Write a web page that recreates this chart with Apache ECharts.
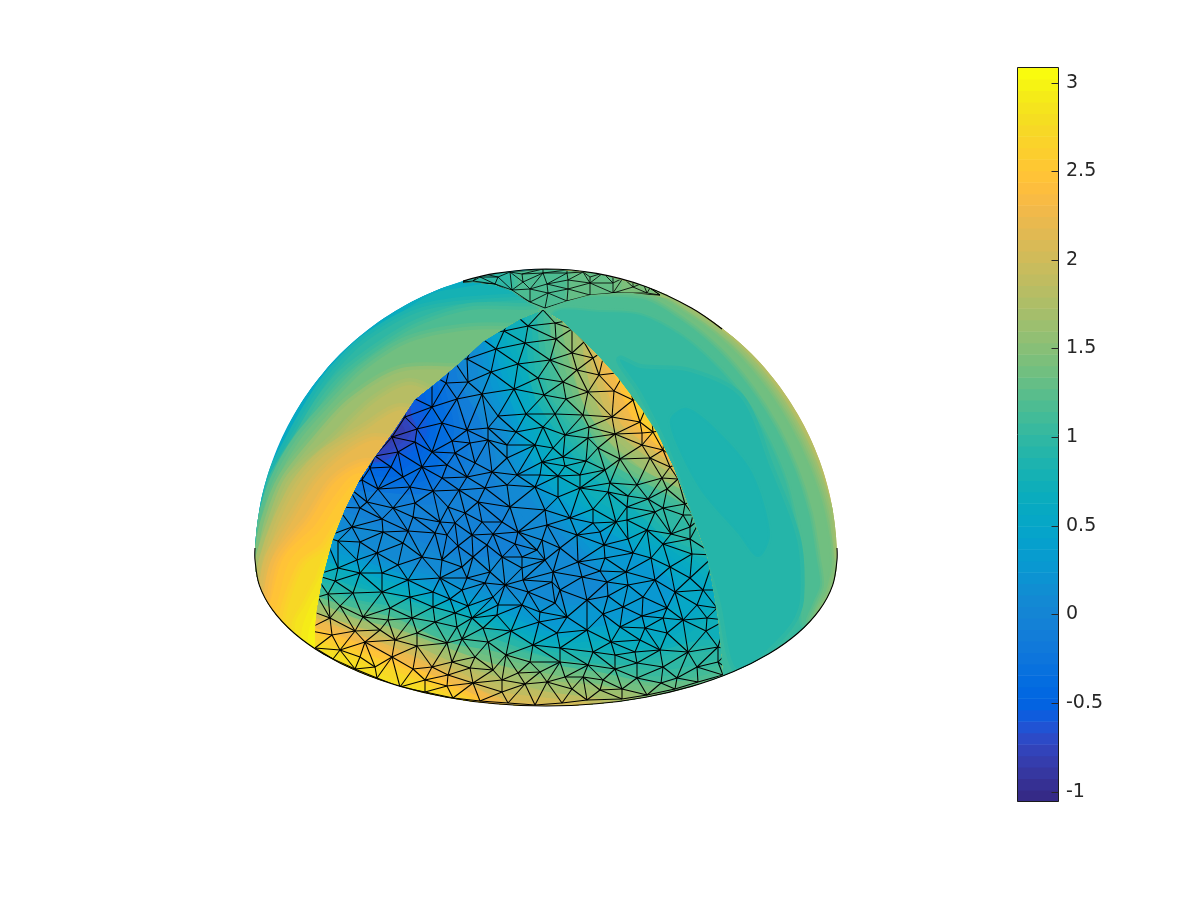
<!DOCTYPE html>
<html>
<head>
<meta charset="utf-8">
<style>html,body{margin:0;padding:0;background:#fff}#c{width:1200px;height:900px}</style>
<script src="https://cdn.jsdelivr.net/npm/echarts@6/dist/echarts.min.js"></script>
</head>
<body>
<div id="c"></div>
<script>
const colorMin = -1.056, colorMax = 3.085;
const tickValues = [-1, -0.5, 0, 0.5, 1, 1.5, 2, 2.5, 3];
const parula = [
[.2081,.1663,.5292],[.2116,.1898,.5777],[.2123,.2138,.6270],[.2081,.2386,.6771],[.1959,.2645,.7279],[.1707,.2919,.7792],[.1253,.3242,.8303],[.0591,.3598,.8683],
[.0117,.3875,.8820],[.0060,.4086,.8828],[.0165,.4266,.8786],[.0329,.4430,.8720],[.0498,.4586,.8641],[.0629,.4737,.8554],[.0723,.4887,.8467],[.0779,.5040,.8384],
[.0793,.5200,.8312],[.0749,.5375,.8263],[.0641,.5570,.8240],[.0488,.5772,.8228],[.0343,.5966,.8199],[.0265,.6137,.8135],[.0239,.6287,.8038],[.0231,.6418,.7913],
[.0228,.6535,.7768],[.0267,.6642,.7607],[.0384,.6743,.7436],[.0590,.6838,.7254],[.0843,.6928,.7062],[.1133,.7015,.6859],[.1453,.7098,.6646],[.1801,.7177,.6424],
[.2178,.7250,.6193],[.2586,.7317,.5954],[.3022,.7376,.5712],[.3482,.7424,.5473],[.3953,.7459,.5244],[.4420,.7481,.5033],[.4871,.7491,.4840],[.5300,.7491,.4661],
[.5709,.7485,.4494],[.6099,.7473,.4337],[.6473,.7456,.4188],[.6834,.7435,.4044],[.7184,.7411,.3905],[.7525,.7384,.3768],[.7858,.7356,.3633],[.8185,.7327,.3498],
[.8507,.7299,.3360],[.8824,.7274,.3217],[.9139,.7258,.3063],[.9450,.7261,.2886],[.9739,.7314,.2666],[.9938,.7455,.2403],[.9990,.7653,.2164],[.9955,.7861,.1967],
[.9880,.8066,.1794],[.9789,.8271,.1633],[.9697,.8481,.1475],[.9626,.8705,.1309],[.9589,.8949,.1132],[.9598,.9218,.0948],[.9661,.9514,.0755],[.9763,.9831,.0538]];

// Outline of the dome and its patches (picture units)
const domeOutline = [[255,560],[259.4,509.5],[272.5,460.5],[294,414.5],[323.1,372.9],[358.9,337.1],[400.5,308],[446.5,286.5],[495.5,273.4],[546,269],[596.5,273.4],[645.5,286.5],[691.5,308],[733.1,337.1],[768.9,372.9],[798,414.5],[819.5,460.5],[832.6,509.5],[837,560],[832.6,585.4],[819.5,609.9],[798,633],[768.9,653.8],[733.1,671.8],[691.5,686.4],[645.5,697.2],[596.5,703.8],[546,706],[495.5,703.8],[446.5,697.2],[400.5,686.4],[358.9,671.8],[323.1,653.8],[294,633],[272.5,609.9],[259.4,585.4]];
const bottomRim = [[255,548],[255,560],[259.4,585.4],[272.5,609.9],[294,633],[323.1,653.8],[358.9,671.8],[400.5,686.4],[446.5,697.2],[495.5,703.8],[546,706],[596.5,703.8],[645.5,697.2],[691.5,686.4],[733.1,671.8],[768.9,653.8],[798,633],[819.5,609.9],[832.6,585.4],[837,560],[837,548]];
const topRim = [[463,281],[495.5,273.4],[546,269],[596.5,273.4],[645.5,286.5],[691.5,308],[722,329]];
const centerPatch = [[543,310],[519,320],[483,342],[460,363],[440,380],[415,400],[393,433],[373,460],[360,480],[345,510],[333,540],[323,577],[317,610],[315,630],[315,648],[323,654],[341,663],[359,672],[380,680],[400.5,686.4],[423,692],[446.5,697.2],[471,701],[495.5,703.8],[521,705.5],[546,706],[571,705.5],[596.5,703.8],[621,701],[645.5,697.2],[668,692.5],[691.5,686.4],[710,680],[723,675],[718,620],[713,590],[707,557],[693,519],[687,503],[673,467],[657,433],[642,410],[617,377],[597,355],[563,322]];
const capPatch = [[463,283],[473,282],[495,285],[512,291],[530,303],[543,310],[547,308],[567,301],[590,295],[613,293],[633,293],[650,295],[670,299],[668,295],[645.5,286.5],[596.5,273.4],[546,269],[495.5,273.4],[463,281]];

// Colour regions: each path encloses the part of the patch at or beyond its value
const leftBandValues = [0.45,0.8,1.0,1.2,1.4,1.6,1.8,2.0,2.2,2.4,2.55,2.7,2.85,3.0];
const leftBandPaths = [
[[240,560],[240,260],[600,260],[600,720],[240,720]],
[[445,290],[400,313],[362,342],[330,375],[303,413],[282,457],[266,505],[258,535],[250,560],[240,720],[600,720],[600,290]],
[[520,300],[425,310],[368,340],[335,372],[315,400],[292,440],[272,480],[262,520],[257,545],[250,560],[240,720],[600,720],[600,300]],
[[525,310],[470,310],[420,325],[385,345],[345,375],[322,402],[302,435],[275,480],[265,520],[258,548],[252,565],[240,720],[600,720],[600,310]],
[[530,330],[470,330],[410,342],[365,370],[333,402],[300,440],[277,480],[264,520],[257,555],[245,580],[240,720],[600,720],[600,330]],
[[460,370],[400,372],[350,402],[315,440],[284,480],[268,520],[259,560],[250,585],[240,720],[600,720],[600,370]],
[[450,400],[410,385],[375,402],[335,440],[292,480],[275,520],[262,560],[255,590],[240,720],[600,720],[600,400]],
[[440,420],[400,410],[365,430],[325,455],[300,482],[280,520],[266,560],[260,595],[250,720],[600,720],[600,420]],
[[430,450],[375,440],[345,455],[318,480],[293,520],[271,560],[265,595],[255,720],[600,720],[600,450]],
[[420,470],[365,465],[335,482],[310,520],[279,560],[270,600],[265,720],[600,720],[600,470]],
[[400,500],[360,480],[340,500],[320,530],[290,560],[278,600],[272,625],[268,720],[600,720],[600,500]],
[[400,540],[345,525],[325,550],[305,565],[290,600],[285,625],[290,720],[600,720],[600,540]],
[[400,580],[330,558],[318,580],[305,605],[295,625],[305,720],[600,720],[600,580]],
[[400,620],[325,600],[312,620],[308,640],[315,720],[600,720],[600,620]]];

const rightBandValues = [1.9,1.7,1.5,1.35,1.2,1.05,0.92,0.85];
const rightBandPaths = [
[[546,285],[560,260],[860,260],[860,720],[600,720],[590,500],[552,340],[544,310]],
[[645.2,287.5],[691,308.9],[731.8,338.6],[766.6,374.9],[794.5,416.5],[816.6,461.5],[832.6,509.5],[850,505],[850,720],[600,720],[590,500],[552,340],[544,310],[546,290]],
[[644.5,289.4],[689,312.3],[729.2,341.7],[763.5,377.4],[791.1,418.5],[812.9,462.9],[828.6,510.2],[835,560],[850,575],[850,720],[600,720],[590,500],[552,340],[544,310],[546,295]],
[[643.1,293.1],[687,315.8],[726,345.5],[759,381.3],[785.9,421.5],[807.3,464.9],[822.7,511.2],[830,560],[824,590],[812,615],[825,630],[825,720],[600,720],[590,500],[552,340],[544,310],[546,298]],
[[641,298.7],[683.5,321.8],[720.2,352.4],[750.5,388.4],[775.5,427.5],[795,469.4],[809,513.6],[817,560],[820,585],[812,605],[806,625],[830,640],[800,690],[740,720],[600,720],[590,500],[552,340],[544,310],[546,300]],
[[555,312],[600,312],[640,315],[680,335],[715,365],[745,400],[768,440],[785,480],[795,520],[802,560],[800,600],[800,625],[810,640],[745,710],[600,720],[590,500],[552,340]],
[[620,360],[640,368],[690,372],[740,397],[770,467],[797,540],[800,600],[790,625],[755,660],[735,667],[720,600],[697,527],[670,450],[640,390]],
[[672,420],[687,410],[717,433],[750,473],[768,533],[758,555],[740,533],[703,490],[680,447]]];

const centerBandValues = [2.9,2.7,2.4,2.1,1.8,1.5,1.2,1.0,0.75,0.5,0.3,0.1,-0.05,-0.2,-0.35,-0.5,-0.65,-0.8];
const centerBandPaths = [
[[300,300],[740,300],[740,720],[300,720]],
[[300,300],[730,300],[730,720],[460,720],[440,695],[400,682],[370,668],[340,655],[316,645],[300,640]],
[[300,300],[660,300],[660,360],[617,378],[625,400],[640,430],[665,452],[730,500],[730,720],[490,720],[480,697],[450,682],[400,660],[360,645],[316,627],[300,620]],
[[300,300],[640,300],[640,340],[600,358],[607,390],[625,430],[650,455],[680,480],[730,500],[730,720],[510,720],[500,696],[450,670],[400,648],[360,630],[316,615],[300,608]],
[[300,300],[620,300],[620,320],[585,345],[592,390],[610,430],[640,455],[668,475],[700,495],[730,520],[730,720],[610,720],[600,700],[550,692],[500,685],[450,660],[400,637],[360,622],[316,605],[300,598]],
[[300,300],[610,300],[572,328],[578,388],[598,430],[644,470],[682,495],[730,530],[730,720],[660,720],[640,695],[600,686],[550,680],[500,665],[450,648],[400,625],[360,615],[316,600],[300,592]],
[[300,300],[600,300],[552,315],[565,390],[585,430],[620,470],[685,505],[695,512],[730,535],[735,672],[700,680],[650,680],[600,672],[550,662],[500,653],[450,636],[400,617],[360,607],[320,590],[300,582]],
[[300,300],[560,290],[538,312],[548,390],[575,430],[600,470],[670,510],[695,530],[735,545],[735,655],[715,660],[680,668],[650,670],[600,660],[550,652],[500,640],[450,630],[400,607],[360,597],[320,585],[300,578]],
[[300,300],[520,300],[525,322],[532,390],[555,430],[585,470],[635,510],[680,550],[735,570],[735,635],[700,640],[650,652],[600,652],[550,645],[500,628],[450,612],[400,596],[360,588],[322,575],[300,570]],
[[300,300],[495,300],[500,340],[520,390],[532,430],[555,470],[590,510],[661,550],[708,595],[672,630],[640,637],[600,635],[550,636],[500,617],[450,600],[400,585],[360,570],[330,555],[300,548]],
[[300,300],[470,300],[488,350],[500,390],[515,430],[530,470],[565,510],[625,550],[670,590],[650,612],[600,620],[550,625],[500,605],[443,590],[400,572],[330,550],[300,535]],
[[300,300],[450,300],[476,360],[480,390],[500,430],[510,470],[540,510],[575,550],[605,590],[550,600],[500,590],[450,575],[370,550],[335,525],[300,515]],
[[300,300],[440,300],[458,365],[465,395],[483,430],[492,470],[505,510],[525,550],[500,556],[460,555],[380,525],[340,510],[300,505]],
[[300,300],[435,300],[445,378],[455,400],[470,430],[462,470],[445,490],[400,492],[350,490],[300,480]],
[[300,300],[425,300],[438,385],[448,430],[435,470],[420,482],[380,480],[350,478],[300,470]],
[[300,300],[410,300],[425,395],[430,430],[420,455],[400,470],[375,470],[350,462],[300,450]],
[[300,300],[395,300],[410,410],[415,430],[400,445],[380,452],[360,450],[300,440]],
[[300,300],[385,300],[400,420],[405,432],[392,442],[378,450],[300,445]]];

const capBandValues = [1.6,1.45,1.3,1.15,1.0];
const capBandPaths = [
[[440,250],[700,250],[700,320],[440,320]],
[[440,250],[645,250],[640,320],[440,320]],
[[440,250],[605,250],[600,320],[440,320]],
[[440,250],[555,250],[550,320],[440,320]],
[[440,250],[505,250],[500,320],[440,320]]];

// Mesh nodes
const meshNodes = [
[543,310],[528,326],[504,331],[555,323],[572,329],[556,339],[525,343],[496,349],[584,342],[593,358],[572,353],[550,360],[518,364],[491,372],[467,359],[446,383],[468,382],[482,394],[514,389],[538,378],[577,370],[599,375],[563,382],[588,392],[614,391],[544,395],[566,399],[457,399],[432,407],[633,400],
[498,416],[526,414],[405,417],[442,423],[417,429],[467,430],[488,428],[516,432],[452,441],[415,442],[392,437],[432,452],[488,440],[470,443],[507,445],[535,445],[398,452],[455,453],[475,463],[507,458],[375,456],[422,467],[391,467],[447,465],[370,468],[517,475],[492,472],[467,477],[403,477],[442,478],[362,480],[507,485],[410,487],[433,491],[459,490],[485,488],[535,487],[378,489],[393,508],[367,502],[415,503],[448,507],[478,502],[510,507],[360,508],
[555,414],[583,415],[612,417],[640,422],[543,427],[565,435],[589,427],[615,434],[642,433],[653,432],[588,438],[553,448],[598,448],[620,459],[642,445],[663,450],[542,462],[586,461],[563,457],[650,458],[670,467],[605,470],[565,466],[540,475],[580,475],[610,483],[637,485],[662,478],[678,479],[558,476],[667,489],[580,488],[558,497],[608,492],[628,496],[648,499],[685,504],[545,510],[593,509],[627,507],[663,508],[570,518],[693,515],
[382,519],[352,527],[413,517],[440,522],[383,532],[338,541],[360,542],[408,531],[403,543],[435,533],[377,553],[357,560],[398,565],[422,557],[442,560],[360,573],[338,568],[382,573],[335,581],[408,580],[440,578],[382,592],[353,593],[328,594],[410,597],[433,592],[340,606],[390,608],[363,617],[433,607],[318,597],[412,618],[330,618],
[465,513],[482,522],[455,523],[502,522],[547,525],[447,535],[472,535],[493,534],[518,532],[577,535],[458,546],[487,545],[515,544],[542,540],[537,550],[560,548],[473,557],[502,557],[522,557],[545,560],[578,562],[462,567],[490,572],[522,568],[553,572],[467,578],[523,580],[582,577],[485,583],[505,585],[552,582],[462,590],[528,592],[560,590],[493,597],[450,599],[555,603],[522,605],[587,600],[468,606],[498,605],[567,617],[472,618],
[655,512],[683,515],[627,520],[593,523],[616,522],[647,530],[671,534],[690,527],[600,532],[628,539],[604,545],[663,544],[690,539],[633,553],[692,554],[605,558],[670,567],[651,558],[626,572],[600,571],[690,578],[655,580],[628,585],[607,582],[675,592],[703,590],[643,597],[608,596],[623,607],[697,605],[667,608],[603,614],[642,616],[717,608],
[380,630],[388,620],[332,635],[355,631],[395,640],[417,633],[435,622],[365,642],[333,659],[417,646],[447,643],[340,650],[392,657],[360,657],[355,669],[375,667],[413,669],[377,678],[432,667],[400,687],[425,680],[448,675],[425,692],
[497,615],[455,613],[540,612],[483,628],[457,627],[511,631],[539,622],[557,633],[587,630],[462,639],[488,642],[533,645],[560,648],[506,655],[475,657],[530,662],[560,662],[452,662],[493,670],[588,665],[518,673],[540,672],[470,668],[547,682],[565,677],[473,683],[502,680],[525,684],[572,689],[447,686],[502,692],[480,701],[508,703],[535,705],[562,703],[587,700],[453,698],
[663,618],[683,620],[707,618],[620,627],[645,628],[667,633],[706,631],[611,642],[640,640],[660,650],[688,652],[718,647],[593,652],[635,652],[615,655],[637,663],[615,669],[663,667],[697,667],[583,677],[603,680],[637,678],[661,683],[677,678],[622,689],[600,690],[647,695],[592,703],[622,699],[675,689],[698,682],[723,675],[718,662],
[512,312],[477,335],[452,358],[432,375],[407,395],[385,428],[365,455],[348,487],[337,507],[325,537],[315,575],[308,610],[306,630],[305,645],[315,648],
[572,320],[605,350],[625,372],[650,398],[665,430],[681,462],[695,500],[702,517],[715,555],[721,590],[726,620],[730,650],[732,672]];
const capNodes = [
[548,293],[530,289],[512,290],[547,284],[523,282],[568,289],[590,283],[568,280],[590,295],[613,293],[613,283],[633,287],[590,277],[567,273],[543,273],[522,274],[498,277],[495,284],[480,277],[473,281],[463,282],[545,308],[530,302],[567,301],[613,277],[633,280],[650,288],[647,293],[660,295],[510,272],[583,272],[480,273],[603,273],[623,278],[567,270],[543,269],[643,283]];

function bandColor(v) {
  const i = Math.max(0, Math.min(63, Math.floor((v - colorMin) / (colorMax - colorMin) * 64)));
  const c = parula[i];
  return 'rgb(' + Math.round(c[0]*255) + ',' + Math.round(c[1]*255) + ',' + Math.round(c[2]*255) + ')';
}
const bands = [];
const addBands = (vals, paths, clip, soft) => vals.forEach((v, i) =>
  bands.push({v, prev: i ? vals[i-1] : v, path: paths[i], clip, soft: i ? soft : 0}));
addBands(leftBandValues, leftBandPaths, domeOutline, 7);
addBands(rightBandValues, rightBandPaths, domeOutline, 4);
addBands(centerBandValues, centerBandPaths, centerPatch, 12);
addBands(capBandValues, capBandPaths, capPatch, 8);

function triangulate(nodes, minGap) {
  const pts = [];
  nodes.forEach(p => { if (!pts.some(q => Math.hypot(p[0]-q[0], p[1]-q[1]) < minGap)) pts.push(p); });
  const n = pts.length;
  const all = pts.concat([[-5000,-5000],[7000,-5000],[1000,7000]]);
  let tris = [[n, n+1, n+2]];
  const inCirc = (t, p) => {
    const a = all[t[0]], b = all[t[1]], c = all[t[2]];
    const ax=a[0]-p[0], ay=a[1]-p[1], bx=b[0]-p[0], by=b[1]-p[1], cx=c[0]-p[0], cy=c[1]-p[1];
    const det = (ax*ax+ay*ay)*(bx*cy-cx*by) - (bx*bx+by*by)*(ax*cy-cx*ay) + (cx*cx+cy*cy)*(ax*by-bx*ay);
    const o = (b[0]-a[0])*(c[1]-a[1]) - (b[1]-a[1])*(c[0]-a[0]);
    return o > 0 ? det > 0 : det < 0;
  };
  for (let i = 0; i < n; i++) {
    const bad = [], good = [];
    tris.forEach(t => (inCirc(t, pts[i]) ? bad : good).push(t));
    const count = {};
    bad.forEach(t => [[t[0],t[1]],[t[1],t[2]],[t[2],t[0]]].forEach(e => {
      const k = Math.min(e[0],e[1]) + '_' + Math.max(e[0],e[1]);
      count[k] = (count[k] || 0) + 1;
    }));
    tris = good;
    Object.keys(count).forEach(k => {
      if (count[k] === 1) { const e = k.split('_').map(Number); tris.push([e[0], e[1], i]); }
    });
  }
  const seen = {}, edges = [];
  tris.forEach(t => {
    if (t.some(i => i >= n)) return;
    [[t[0],t[1]],[t[1],t[2]],[t[2],t[0]]].forEach(e => {
      const k = Math.min(e[0],e[1]) + '_' + Math.max(e[0],e[1]);
      if (seen[k]) return;
      seen[k] = 1;
      const p = pts[e[0]], q = pts[e[1]];
      if (Math.hypot(p[0]-q[0], p[1]-q[1]) < 48) edges.push([p, q]);
    });
  });
  return edges;
}
const centerEdges = triangulate(meshNodes, 7.5);
const capEdges = triangulate(capNodes, 2);
const meshes = [{edges: centerEdges, clip: centerPatch, w: 1.05}, {edges: capEdges, clip: capPatch, w: 0.85}];
const rims = [{pts: bottomRim, w: 1.1}, {pts: topRim, w: 1.2}];

const chart = echarts.init(document.getElementById('c'), null, {renderer: 'canvas'});
const base = {type: 'custom', xAxisIndex: 0, yAxisIndex: 0, clip: false, silent: true, animation: false, progressive: 0};
const toPts = (api, list) => list.map(p => api.coord(p));
chart.setOption({
  animation: false,
  backgroundColor: '#ffffff',
  tooltip: {show: false},
  grid: [
    {left: 0, top: 0, width: 1200, height: 900, show: false},
    {left: 1017.5, top: 67.5, width: 41, height: 734, show: false}
  ],
  xAxis: [
    {gridIndex: 0, type: 'value', min: 0, max: 1200, show: false},
    {gridIndex: 1, type: 'value', min: 0, max: 1, show: false}
  ],
  yAxis: [
    {gridIndex: 0, type: 'value', min: 0, max: 900, inverse: true, show: false},
    {gridIndex: 1, type: 'value', min: colorMin, max: colorMax, position: 'right',
      splitLine: {show: false},
      axisLine: {show: false},
      axisTick: {show: false},
      axisLabel: {show: true, margin: 7.5, customValues: tickValues, color: '#262626', fontSize: 19,
        fontFamily: 'DejaVu Sans', padding: [3, 0, 0, 0], formatter: v => String(v)}}
  ],
  series: [
    Object.assign({}, base, {
      name: 'surface', z: 2,
      data: bands.map((b, i) => [i]),
      renderItem: (params, api) => {
        const b = bands[api.value(0)];
        const points = toPts(api, b.path);
        const children = [];
        if (b.soft) {
          const d = b.v - b.prev;
          children.push({type: 'polygon', shape: {points, smooth: 0.3},
            style: {fill: null, stroke: bandColor(b.prev + d / 3), lineWidth: b.soft * 2, lineJoin: 'round'}});
          children.push({type: 'polygon', shape: {points, smooth: 0.3},
            style: {fill: null, stroke: bandColor(b.prev + d * 2 / 3), lineWidth: b.soft, lineJoin: 'round'}});
        }
        children.push({type: 'polygon', shape: {points, smooth: 0.3}, style: {fill: bandColor(b.v), stroke: null}});
        return {
          type: 'group',
          clipPath: {type: 'polygon', shape: {points: toPts(api, b.clip), smooth: b.clip === domeOutline ? 0.35 : 0}},
          children
        };
      }
    }),
    Object.assign({}, base, {
      name: 'mesh', z: 3,
      data: meshes.map((m, i) => [i]),
      renderItem: (params, api) => {
        const m = meshes[api.value(0)];
        return {
          type: 'group',
          clipPath: {type: 'polygon', shape: {points: toPts(api, m.clip)}},
          children: m.edges.map(e => {
            const a = api.coord(e[0]), b = api.coord(e[1]);
            return {type: 'line', shape: {x1: a[0], y1: a[1], x2: b[0], y2: b[1]},
              style: {stroke: '#000', lineWidth: m.w, fill: null}};
          })
        };
      }
    }),
    Object.assign({}, base, {
      name: 'rim', z: 4,
      data: rims.map((r, i) => [i]),
      renderItem: (params, api) => {
        const r = rims[api.value(0)];
        return {type: 'polyline', shape: {points: toPts(api, r.pts), smooth: 0.35},
          style: {stroke: '#000', lineWidth: r.w, fill: null}};
      }
    }),
    {
      name: 'colorbar', type: 'custom', xAxisIndex: 1, yAxisIndex: 1, clip: false, silent: true, animation: false, progressive: 0, z: 2,
      data: parula.map((c, i) => [i]),
      renderItem: (params, api) => {
        const i = api.value(0), step = (colorMax - colorMin) / 64;
        const v0 = colorMin + i * step;
        const a = api.coord([0, v0 + step]), b = api.coord([1, v0]);
        return {type: 'rect', shape: {x: a[0], y: a[1], width: b[0] - a[0], height: b[1] - a[1] + 0.5},
          style: {fill: bandColor(v0 + step / 2)}};
      }
    },
    {
      name: 'colorbarBox', type: 'custom', xAxisIndex: 1, yAxisIndex: 1, clip: false, silent: true, animation: false, z: 5,
      data: [[0]],
      renderItem: (params, api) => {
        const a = api.coord([0, colorMax]), b = api.coord([1, colorMin]);
        return {type: 'rect', shape: {x: a[0], y: a[1], width: b[0] - a[0], height: b[1] - a[1]},
          style: {fill: null, stroke: '#1a1a1a', lineWidth: 1}};
      }
    },
    {
      name: 'colorbarTicks', type: 'custom', xAxisIndex: 1, yAxisIndex: 1, clip: false, silent: true, animation: false, progressive: 0, z: 5,
      data: tickValues.map(v => [v]),
      renderItem: (params, api) => {
        const v = api.value(0);
        const a = api.coord([0.83, v]), b = api.coord([1, v]);
        const y = Math.round(a[1]) + 0.5;
        return {type: 'line', shape: {x1: a[0], y1: y, x2: b[0], y2: y},
          style: {stroke: '#262626', lineWidth: 1, fill: null}};
      }
    }
  ]
});
</script>
</body>
</html>
